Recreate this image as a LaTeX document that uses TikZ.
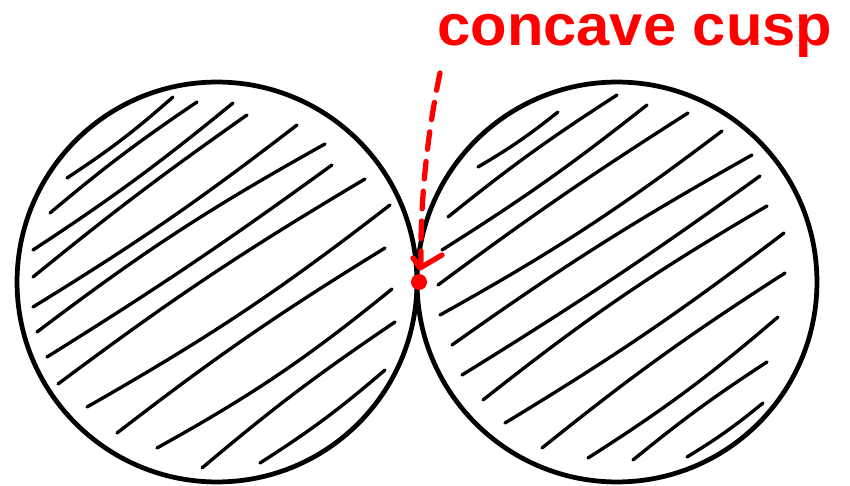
\documentclass[tikz,border=0pt]{standalone}
\usepackage{fontspec}
\setmainfont{Liberation Sans}
\usetikzlibrary{calc}

\begin{document}
\begin{tikzpicture}[
    x=0.02cm, y=-0.02cm, % one unit is one pixel of the sketch
    ball/.style={circle, draw, line width=2.7pt, minimum size=8cm, inner sep=0pt},
    hatch/.style={line width=1.9pt, line cap=round},
    redink/.style={red, line width=3pt, line cap=round, line join=round},
    dashline/.style={redink, dash pattern=on 10pt off 7pt}
]
    \useasboundingbox (0,0) rectangle (850,486);

    % the two touching discs
    \node[ball] (leftball) at (217,282) {};
    \node[ball] (rightball) at (617,282) {};
    \coordinate (cusp) at (419,282);

    % hatching of the left disc
    \foreach \xa/\ya/\xb/\yb/\bnd in {
        67/178/173/97/-4, 50/213/197/102/3, 33/250/233/103/-3,
        33/277/247/115/2, 33/307/297/125/-3, 37/332/325/144/4,
        47/357/332/165/-2, 58/384/365/179/3, 87/407/390/205/-4,
        117/433/385/248/3, 157/448/392/289/-5, 202/468/395/322/3,
        260/463/385/370/-4}
        \draw[hatch] (\xa,\ya) to[bend left=\bnd] (\xb,\yb);

    % hatching of the right disc
    \foreach \xa/\ya/\xb/\yb/\bnd in {
        478/167/558/112/-4, 448/217/617/95/3, 442/250/647/105/-3,
        438/285/688/113/2, 440/315/722/131/-4, 452/345/752/155/3,
        462/375/760/176/-2, 483/400/767/206/4, 505/423/784/233/-3,
        542/448/785/273/3, 588/458/778/317/-4, 633/460/767/362/3,
        687/457/763/403/-4}
        \draw[hatch] (\xa,\ya) to[bend left=\bnd] (\xb,\yb);

    % label and pointer
    \node[red, anchor=base west, inner sep=0pt, xscale=1.03, font=\bfseries\fontsize{33}{36}\selectfont] (cusplabel) at (437,46) {concave cusp};
    \coordinate (tail) at (440,73);
    \draw[dashline] (tail) .. controls (428,130) and (420,200) .. ($(cusp)+(2,-20)$);
    \draw[redink] ($(cusp)+(-6,-24)$) -- ($(cusp)+(1,-14)$) -- ($(cusp)+(23,-27)$);
    \fill[red] (cusp) circle (8);
\end{tikzpicture}
\end{document}
